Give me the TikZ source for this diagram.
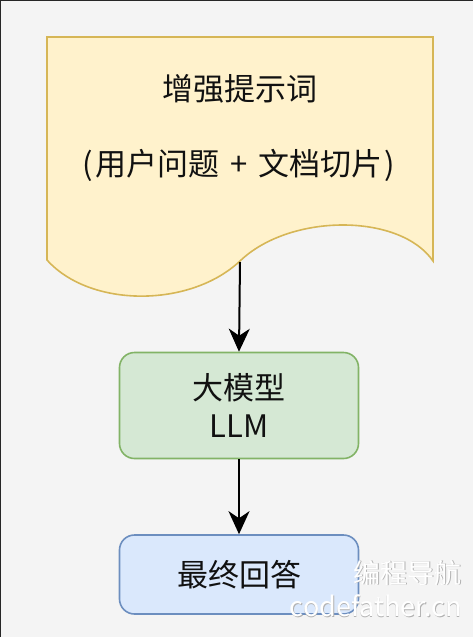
\documentclass[tikz,border=0pt]{standalone}
\usepackage{fontspec}
\setmainfont{Noto Sans CJK SC}
\newfontfamily\cjk{Noto Sans CJK SC}
\usetikzlibrary{arrows.meta}
\definecolor{bgc}{HTML}{F4F4F4}
\definecolor{docfill}{HTML}{FFF2CC}
\definecolor{docline}{HTML}{D6B656}
\definecolor{grnfill}{HTML}{D5E8D4}
\definecolor{grnline}{HTML}{82B366}
\definecolor{blufill}{HTML}{DAE8FC}
\definecolor{bluline}{HTML}{6C8EBF}
\definecolor{txt}{HTML}{111111}
\tikzset{
  lbl/.style={font=\cjk\fontsize{31}{38}\selectfont, text=txt, inner sep=0pt, align=center},
  procbox/.style={draw, line width=1.6pt, rounded corners=15pt, minimum width=239pt, inner sep=0pt, align=center, font=\cjk\fontsize{31}{38}\selectfont, text=txt},
  flow/.style={line width=2pt, draw=black, -{Stealth[length=23pt,width=21pt,inset=7pt]}},
  wm/.style={font=\cjk\fontsize{27}{30}\selectfont, inner sep=0pt, anchor=east}
}
\begin{document}
\begin{tikzpicture}[x=1pt,y=-1pt]
\fill[bgc] (0,0) rectangle (473,637);
\useasboundingbox (0,0) rectangle (473,637);
\draw[line width=2pt, black!85] (0,637) -- (0,0) -- (473,0);
% document shape
\draw[line width=1.6pt, draw=docline, fill=docfill]
  (47,37) -- (433,37) -- (433,261)
  .. controls (400,213) and (290,213) .. (240,261)
  .. controls (190,308) and (90,308) .. (47,260) -- cycle;
\coordinate (docbot) at (240,262);
\node[lbl] (t1) at (240,89) {增强提示词};
\node[lbl] (t2) at (239,165) {(\hspace{2pt}用户问题\hspace{11pt}+\hspace{11pt}文档切片\hspace{2pt})};
% LLM box
\node[procbox, fill=grnfill, draw=grnline, minimum height=106pt] (llm) at (239,405.5) {大模型\\LLM};
% answer box
\node[procbox, fill=blufill, draw=bluline, minimum height=79pt] (ans) at (239,574.5) {最终回答};
\draw[flow] (docbot) -- (llm.north);
\draw[flow] (llm.south) -- (ans.north);
% watermark
\node[wm, text=black!30] (wm1s) at (462.6,573.6) {编程导航};
\node[wm, text=white] (wm1) at (462,573) {编程导航};
\node[wm, text=black!30] (wm2s) at (462.6,606.6) {codefather.cn};
\node[wm, text=white] (wm2) at (462,606) {codefather.cn};
\end{tikzpicture}
\end{document}
